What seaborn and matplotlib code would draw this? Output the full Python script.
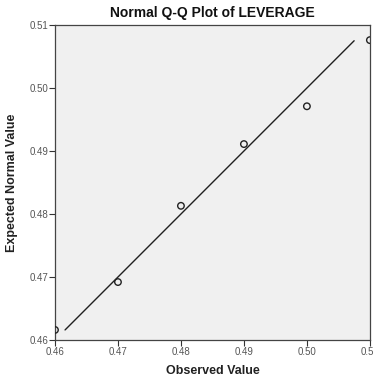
import matplotlib
matplotlib.use("Agg")
import matplotlib.pyplot as plt
import seaborn as sns
import pandas as pd

observed = [0.46, 0.47, 0.48, 0.49, 0.50, 0.51]
expected = [0.4616, 0.4692, 0.4813, 0.4911, 0.4971, 0.5076]
line_x = [0.4616, 0.5075]
line_y = [0.4616, 0.5075]
xticks = [0.46, 0.47, 0.48, 0.49, 0.50, 0.51]
xtick_labels = ["0.46", "0.47", "0.48", "0.49", "0.50", "0.51"]
yticks = [0.46, 0.47, 0.48, 0.49, 0.50, 0.51]
ytick_labels = ["0.46", "0.47", "0.48", "0.49", "0.50", "0.51"]

sns.set_style("ticks")
plt.rcParams['font.family'] = ['Liberation Sans', 'DejaVu Sans']

fig = plt.figure(figsize=(3.74, 3.76), dpi=100)
ax = fig.add_axes([0.147, 0.0957, 0.842, 0.8378])
ax.set_facecolor("#f0f0f0")

df_pts = pd.DataFrame({"obs": observed, "exp": expected})
df_line = pd.DataFrame({"x": line_x, "y": line_y})

sns.lineplot(data=df_line, x="x", y="y", ax=ax, color="#202020", linewidth=1.0)
sns.scatterplot(data=df_pts, x="obs", y="exp", ax=ax, marker="o", s=22,
                facecolor="none", edgecolor="#222222", linewidth=1.0, zorder=3)

ax.set_xlim(0.46, 0.51)
ax.set_ylim(0.46, 0.51)
ax.set_xticks(xticks)
ax.set_xticklabels(xtick_labels)
ax.set_yticks(yticks)
ax.set_yticklabels(ytick_labels)
ax.tick_params(axis="both", direction="out", length=4, width=0.8, color="#333333",
               labelsize=7, labelcolor="#555555", pad=1)
for sp in ax.spines.values():
    sp.set_visible(True)
    sp.set_color("#444444")
    sp.set_linewidth(0.9)

ax.set_xlabel("Observed Value", fontsize=9, fontweight="bold", color="#222222", labelpad=6)
ax.set_ylabel("Expected Normal Value", fontsize=9, fontweight="bold", color="#222222", labelpad=8)
ax.set_title("Normal Q-Q Plot of LEVERAGE", fontsize=10, fontweight="bold", color="#111111", pad=6)

fig.savefig("out.png", dpi=100)
